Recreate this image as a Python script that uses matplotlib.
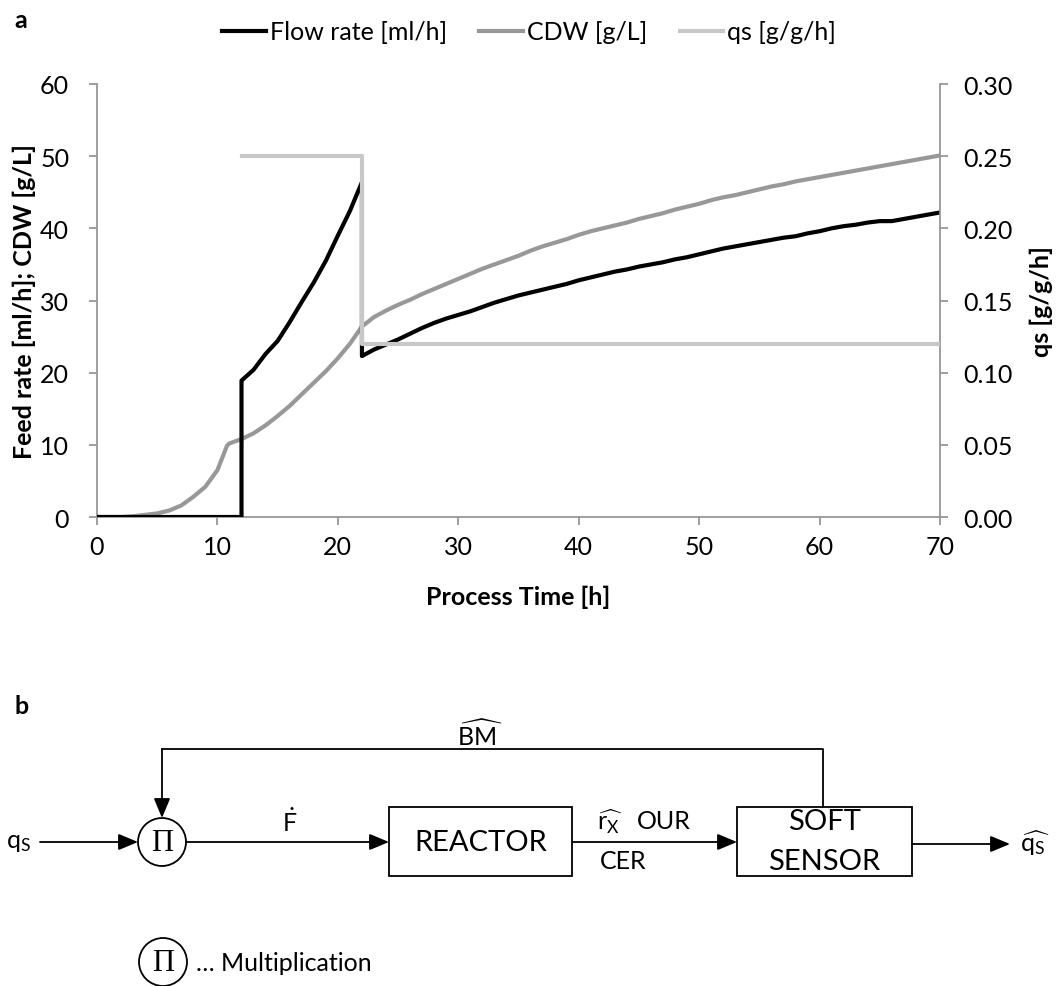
import matplotlib
matplotlib.use("Agg")
import matplotlib.pyplot as plt
from matplotlib.lines import Line2D
from matplotlib.patches import Circle, Rectangle
from matplotlib.ticker import FormatStrFormatter

# ---------------- data ----------------
flow_time = [0, 1, 2, 3, 4, 5, 6, 7, 8, 9, 10, 11, 12,
             12, 13, 14, 15, 16, 17, 18, 19, 20, 21, 22,
             22, 23, 24, 25, 26, 27, 28, 29, 30, 31, 32, 33, 34, 35, 36, 37, 38, 39,
             40, 41, 42, 43, 44, 45, 46, 47, 48, 49, 50, 51, 52, 53, 54, 55, 56, 57,
             58, 59, 60, 61, 62, 63, 64, 65, 66, 67, 68, 69, 70]
flow_rate = [0, 0, 0, 0, 0, 0, 0, 0, 0, 0, 0, 0, 0,
             18.9, 20.4, 22.6, 24.4, 27.0, 29.8, 32.5, 35.5, 39.0, 42.4, 46.4,
             22.3, 23.2, 23.9, 24.6, 25.4, 26.2, 26.9, 27.5, 28.0, 28.5, 29.1, 29.7,
             30.2, 30.7, 31.1, 31.5, 31.9, 32.3, 32.8, 33.2, 33.6, 34.0, 34.3, 34.7,
             35.0, 35.3, 35.7, 36.0, 36.4, 36.8, 37.2, 37.5, 37.8, 38.1, 38.4, 38.7,
             38.9, 39.3, 39.6, 40.0, 40.3, 40.5, 40.8, 41.0, 41.0, 41.3, 41.6, 41.9, 42.2]

cdw_time = [0, 1, 2, 3, 4, 5, 6, 7, 8, 9, 10, 10.8,
            11, 12, 13, 14, 15, 16, 17, 18, 19, 20, 21, 22, 23, 24, 25, 26, 27, 28, 29,
            30, 31, 32, 33, 34, 35, 36, 37, 38, 39, 40, 41, 42, 43, 44, 45, 46, 47, 48,
            49, 50, 51, 52, 53, 54, 55, 56, 57, 58, 59, 60, 61, 62, 63, 64, 65, 66, 67,
            68, 69, 70]
cdw = [0, 0, 0, 0.1, 0.3, 0.5, 0.9, 1.6, 2.8, 4.2, 6.5, 9.9,
       10.2, 10.8, 11.6, 12.7, 14.0, 15.4, 17.0, 18.6, 20.2, 22.0, 24.0, 26.4, 27.7,
       28.6, 29.4, 30.1, 30.9, 31.6, 32.3, 33.0, 33.7, 34.4, 35.0, 35.6, 36.2, 36.9,
       37.5, 38.0, 38.5, 39.1, 39.6, 40.0, 40.4, 40.8, 41.3, 41.7, 42.1, 42.6, 43.0,
       43.4, 43.9, 44.3, 44.6, 45.0, 45.4, 45.8, 46.1, 46.5, 46.8, 47.1, 47.4, 47.7,
       48.0, 48.3, 48.6, 48.9, 49.2, 49.5, 49.8, 50.1]

qs_time = [12, 22, 22, 70]
qs = [0.25, 0.25, 0.12, 0.12]

x_ticks = [0, 10, 20, 30, 40, 50, 60, 70]
y_ticks = [0, 10, 20, 30, 40, 50, 60]
y2_ticks = [0.00, 0.05, 0.10, 0.15, 0.20, 0.25, 0.30]

labels = ["Flow rate [ml/h]", "CDW [g/L]", "qs [g/g/h]"]
colors = ["#000000", "#989898", "#c8c8c8"]

# ---------------- style ----------------
FONT = "Lato"
plt.rcParams["font.family"] = [FONT, "DejaVu Sans"]
plt.rcParams["mathtext.fontset"] = "custom"
plt.rcParams["mathtext.rm"] = FONT
plt.rcParams["mathtext.it"] = FONT + ":italic"
plt.rcParams["mathtext.bf"] = FONT + ":bold"
AXC = "#979797"
FS = 18

W, H = 1058, 987
fig = plt.figure(figsize=(W / 100, H / 100), dpi=100)

# ---------------- panel a ----------------
L, R, T, B = 97, 940, 85, 518
ax = fig.add_axes([L / W, 1 - B / H, (R - L) / W, (B - T) / H])
ax.plot(flow_time, flow_rate, color=colors[0], lw=3.0, zorder=3)
ax.plot(cdw_time, cdw, color=colors[1], lw=3.0, zorder=2)
ax.set_xlim(0, 70)
ax.set_ylim(0, 60)
ax.set_xticks(x_ticks)
ax.set_yticks(y_ticks)

ax2 = ax.twinx()
ax2.plot(qs_time, qs, color=colors[2], lw=3.0, zorder=4)
ax2.set_ylim(0, 0.30)
ax2.set_yticks(y2_ticks)
ax2.yaxis.set_major_formatter(FormatStrFormatter("%.2f"))

for a in (ax, ax2):
    a.spines["top"].set_visible(False)
    for s in ("left", "right", "bottom"):
        a.spines[s].set_color(AXC)
        a.spines[s].set_linewidth(1.3)
    a.patch.set_visible(False)
ax.spines["right"].set_visible(False)
ax2.spines["left"].set_visible(False)
ax2.spines["bottom"].set_visible(False)

ax.tick_params(axis="x", direction="out", length=6, width=1.3, color=AXC,
               labelsize=FS, pad=7)
ax.tick_params(axis="y", direction="out", length=6, width=1.3, color=AXC,
               labelsize=FS, pad=14)
ax2.tick_params(axis="y", direction="out", length=6, width=1.3, color=AXC,
                labelsize=FS, pad=11)

ax.set_xlabel("Process Time [h]", fontsize=FS, fontweight="bold", labelpad=19)
ax.set_ylabel("Feed rate [ml/h]; CDW [g/L]", fontsize=FS, fontweight="bold",
              labelpad=3)
ax2.set_ylabel("qs [g/g/h]", fontsize=FS, fontweight="bold", labelpad=12)

handles = [Line2D([], [], color=c, lw=3.0) for c in colors]
fig.legend(handles, labels, loc="center", bbox_to_anchor=(529 / W, 1 - 33 / H),
           ncol=3, frameon=False, fontsize=FS, handlelength=1.75,
           handletextpad=0.15, columnspacing=1.3)

fig.text(14 / W, 1 - 20 / H, "a", fontsize=FS, fontweight="bold",
         ha="left", va="center")

# ---------------- panel b (block diagram) ----------------
Y0 = 650
axd = fig.add_axes([0, 0, 1, (H - Y0) / H])
axd.set_xlim(0, W)
axd.set_ylim(H, Y0)
axd.axis("off")

LW = 1.3
AST = "-|>,head_length=0.6,head_width=0.25"


def arrow(x0, y0, x1, y1):
    axd.annotate("", xy=(x1, y1), xytext=(x0, y0),
                 arrowprops=dict(arrowstyle=AST, color="k", lw=LW,
                                 mutation_scale=20, shrinkA=0, shrinkB=0))


fig.text(14 / W, 1 - 707 / H, "b", fontsize=FS, fontweight="bold",
         ha="left", va="center")

yc = 843
cx, cr = 162, 24
axd.add_patch(Circle((cx, yc), cr, fill=False, ec="k", lw=LW))
axd.text(cx, yc + 1, "\u03a0", family="Liberation Serif", fontsize=22,
         ha="center", va="center")

axd.text(6, yc, r"$\mathrm{q_S}$", fontsize=FS, ha="left", va="center")
arrow(40, yc, cx - cr, yc)

# feedback loop
sx0, sx1, sy0, sy1 = 737, 912, 808, 877
rx0, rx1 = 389, 572
axd.plot([823, 823, cx], [sy0, 750, 750], color="k", lw=LW)
arrow(cx, 750, cx, yc - cr)
axd.text(480, 735, r"$\widehat{\mathrm{BM}}$", fontsize=FS, ha="center",
         va="center")

# circle -> reactor
arrow(cx + cr, yc, rx0, yc)
axd.text(290, 822, r"$\dot{\mathrm{F}}$", fontsize=FS, ha="center", va="center")

axd.add_patch(Rectangle((rx0, sy0), rx1 - rx0, sy1 - sy0, fill=False, ec="k",
                        lw=LW))
axd.text((rx0 + rx1) / 2, yc, "REACTOR", fontsize=21, ha="center", va="center")

# reactor -> soft sensor
arrow(rx1, yc, sx0, yc)
axd.text(610, 822, r"$\widehat{\mathrm{r_X}}$", fontsize=FS, ha="center",
         va="center")
axd.text(664, 822, "OUR", fontsize=FS, ha="center", va="center")
axd.text(623, 862, "CER", fontsize=FS, ha="center", va="center")

axd.add_patch(Rectangle((sx0, sy0), sx1 - sx0, sy1 - sy0, fill=False, ec="k",
                        lw=LW))
axd.text((sx0 + sx1) / 2, 822, "SOFT", fontsize=21, ha="center", va="center")
axd.text((sx0 + sx1) / 2, 862, "SENSOR", fontsize=21, ha="center", va="center")

# output
arrow(sx1, 845, 1010, 845)
axd.text(1020, 843, r"$\widehat{\mathrm{q_S}}$", fontsize=FS, ha="left",
         va="center")

# key
axd.add_patch(Circle((163, 963), cr, fill=False, ec="k", lw=LW))
axd.text(163, 964, "\u03a0", family="Liberation Serif", fontsize=22,
         ha="center", va="center")
axd.text(196, 964, "\u2026 Multiplication", fontsize=FS, ha="left",
         va="center")

fig.savefig("out.png", dpi=100)
